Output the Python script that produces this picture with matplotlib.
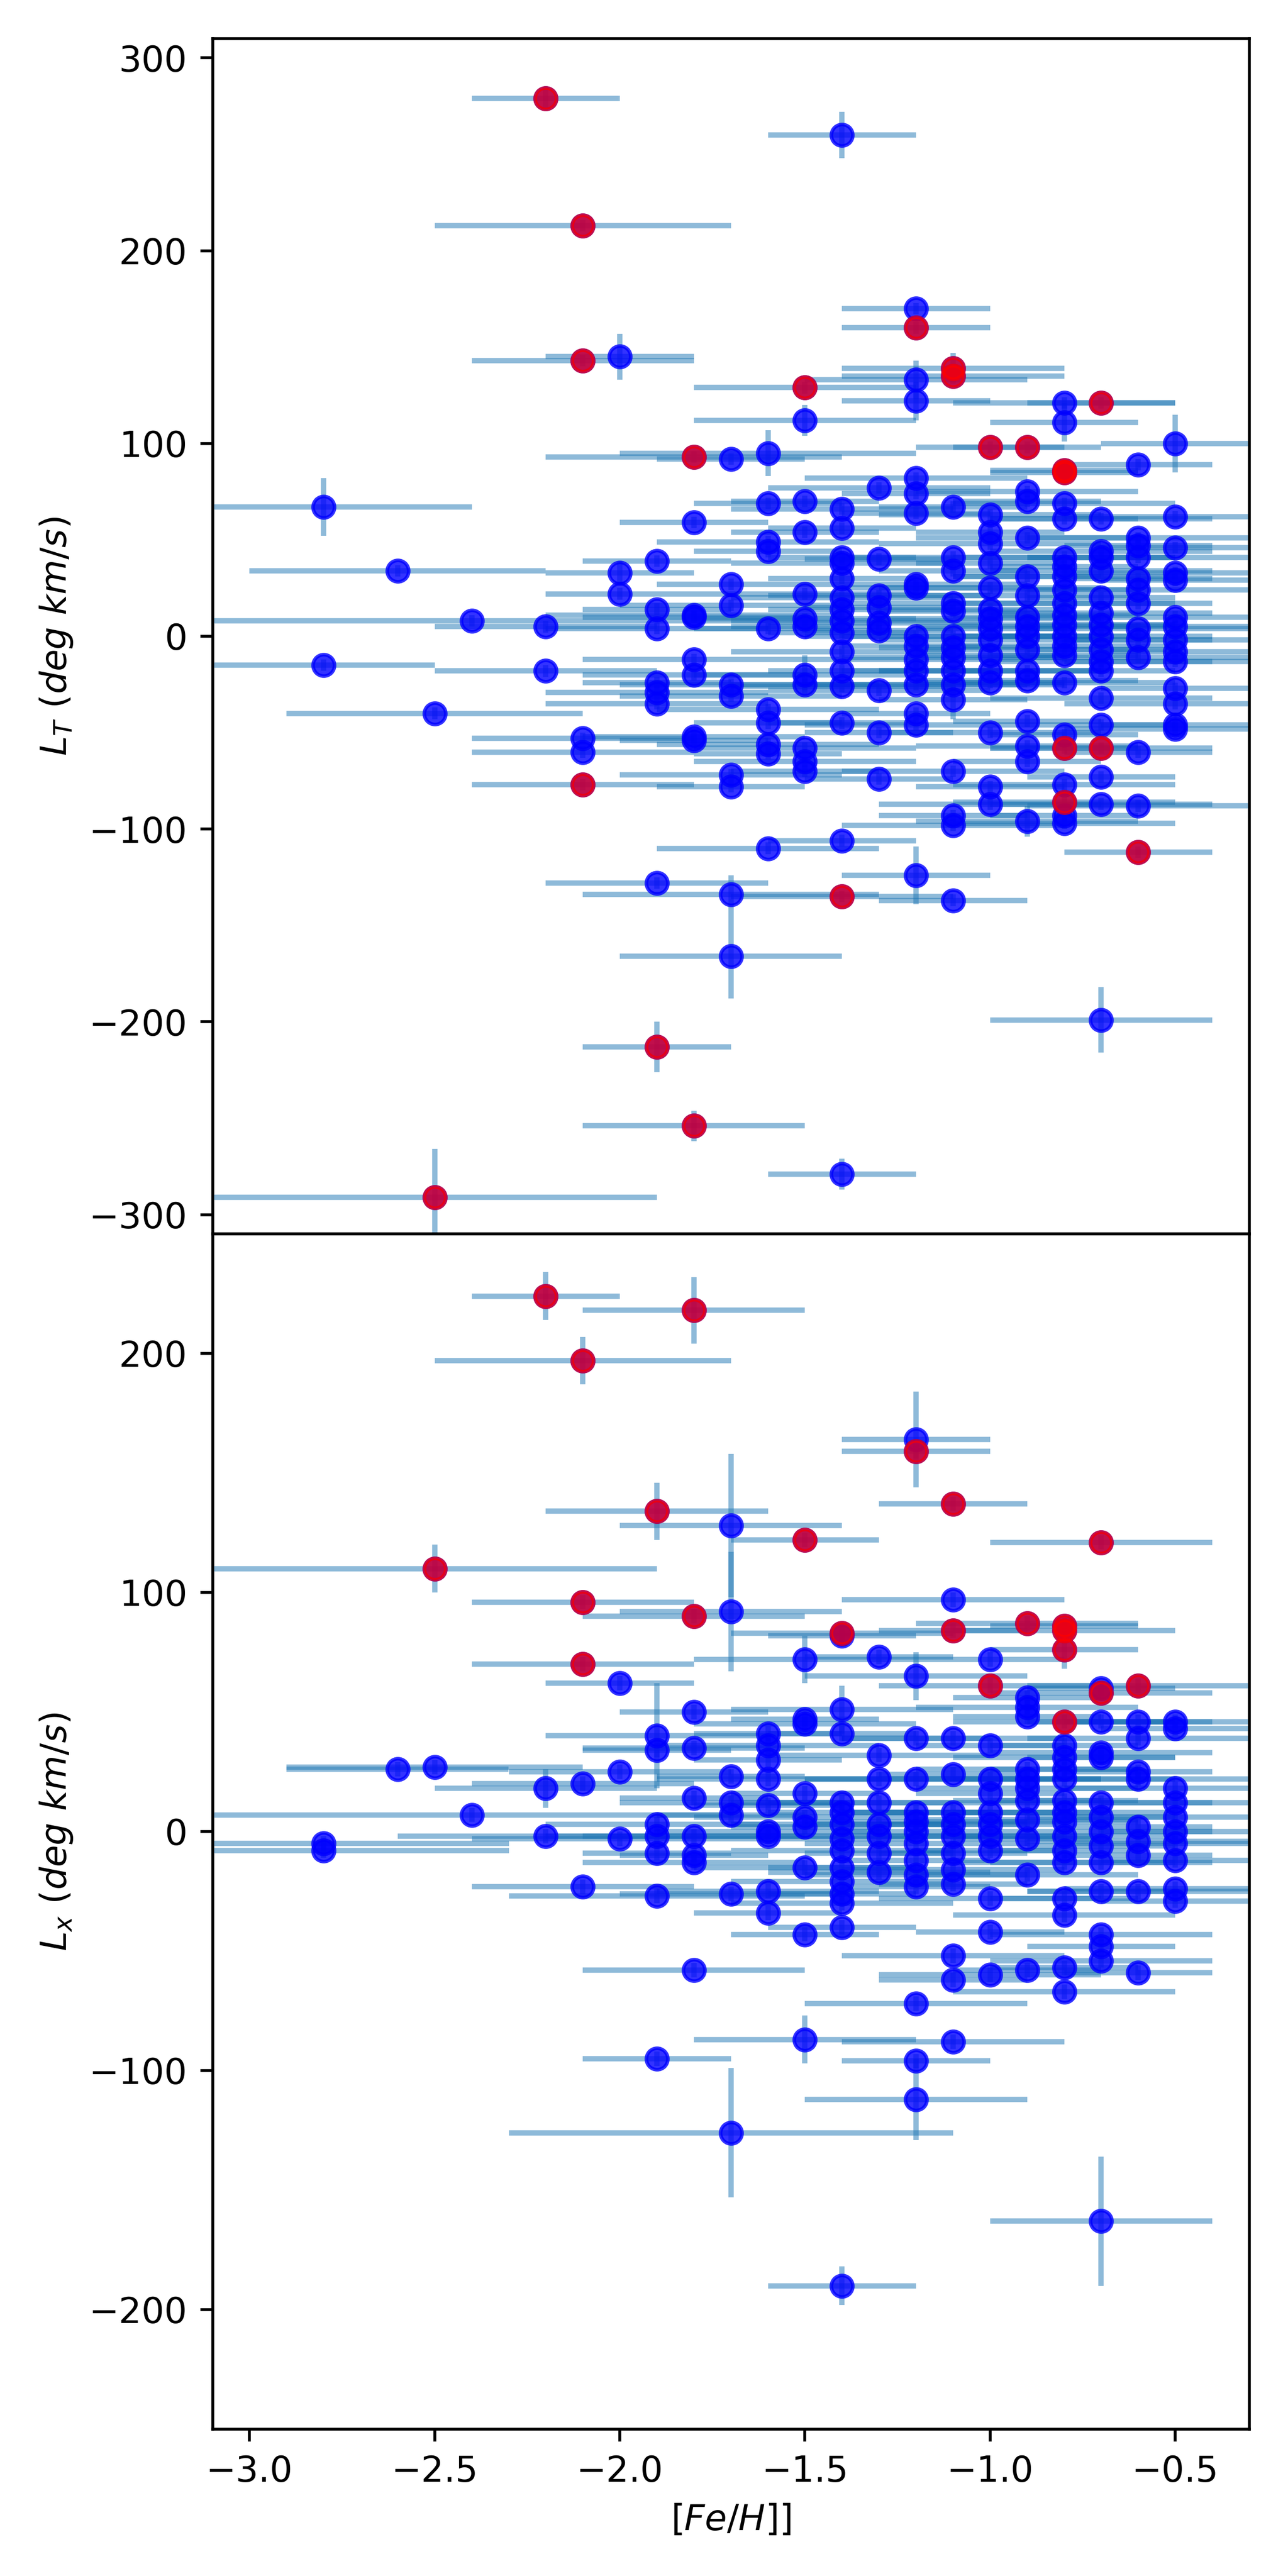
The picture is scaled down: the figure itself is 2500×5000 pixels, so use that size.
import numpy as np
import matplotlib
matplotlib.use("Agg")
import matplotlib.pyplot as plt

# ---- upper panel : L_T ----
feh_t = [
    -2.8, -2.8,
    -2.6,
    -2.5, -2.5,
    -2.4,
    -2.2, -2.2, -2.2,
    -2.1, -2.1, -2.1, -2.1, -2.1,
    -2.0, -2.0, -2.0,
    -1.9, -1.9, -1.9, -1.9, -1.9, -1.9, -1.9, -1.9,
    -1.8, -1.8, -1.8, -1.8, -1.8, -1.8, -1.8, -1.8, -1.8,
    -1.7, -1.7, -1.7, -1.7, -1.7, -1.7, -1.7, -1.7, -1.7,
    -1.6, -1.6, -1.6, -1.6, -1.6, -1.6, -1.6, -1.6, -1.6, -1.6,
    -1.5, -1.5, -1.5, -1.5, -1.5, -1.5, -1.5, -1.5, -1.5, -1.5, -1.5, -1.5,
    -1.4, -1.4, -1.4, -1.4, -1.4, -1.4, -1.4, -1.4, -1.4, -1.4, -1.4, -1.4, -1.4, -1.4, -1.4, -1.4, -1.4,
    -1.3, -1.3, -1.3, -1.3, -1.3, -1.3, -1.3, -1.3, -1.3,
    -1.2, -1.2, -1.2, -1.2, -1.2, -1.2, -1.2, -1.2, -1.2, -1.2, -1.2, -1.2, -1.2, -1.2, -1.2, -1.2, -1.2,
    -1.1, -1.1, -1.1, -1.1, -1.1, -1.1, -1.1, -1.1, -1.1, -1.1, -1.1, -1.1, -1.1, -1.1, -1.1, -1.1, -1.1,
    -1.0, -1.0, -1.0, -1.0, -1.0, -1.0, -1.0, -1.0, -1.0, -1.0, -1.0, -1.0, -1.0, -1.0, -1.0, -1.0,
    -0.9, -0.9, -0.9, -0.9, -0.9, -0.9, -0.9, -0.9, -0.9, -0.9, -0.9, -0.9, -0.9, -0.9, -0.9, -0.9,
    -0.8, -0.8, -0.8, -0.8, -0.8, -0.8, -0.8, -0.8, -0.8, -0.8, -0.8, -0.8, -0.8, -0.8, -0.8, -0.8, -0.8, -0.8, -0.8, -0.8, -0.8, -0.8, -0.8,
    -0.7, -0.7, -0.7, -0.7, -0.7, -0.7, -0.7, -0.7, -0.7, -0.7, -0.7, -0.7, -0.7, -0.7, -0.7, -0.7, -0.7, -0.7,
    -0.6, -0.6, -0.6, -0.6, -0.6, -0.6, -0.6, -0.6, -0.6, -0.6, -0.6, -0.6, -0.6,
    -0.5, -0.5, -0.5, -0.5, -0.5, -0.5, -0.5, -0.5, -0.5, -0.5, -0.5, -0.5, -0.5, -0.5,
]
lt = [
    67, -15,
    34,
    -40, -291,
    8,
    279, 5, -18,
    213, 143, -53, -60, -77,
    145, 33, 22,
    39, 14, 4, -24, -29, -35, -128, -213,
    93, 59, 11, 10, -12, -20, -52, -54, -254,
    92, 27, 16, -25, -31, -72, -78, -134, -166,
    95, 69, 49, 44, 4, -38, -45, -56, -61, -110,
    129, 112, 70, 54, 22, 9, 5, -20, -25, -58, -65, -70,
    260, 66, 56, 41, 38, 30, 20, 14, 8, 2, -8, -18, -26, -45, -106, -135, -279,
    77, 40, 21, 15, 7, 3, -28, -50, -74,
    170, 160, 133, 122, 82, 74, 64, 27, 25, 0, -5, -12, -18, -25, -40, -46, -124,
    139, 135, 67, 41, 34, 17, 13, 0, -6, -11, -18, -25, -33, -70, -93, -98, -137,
    98, 63, 54, 48, 38, 25, 14, 9, 4, -2, -10, -18, -24, -50, -78, -87,
    98, 75, 70, 51, 31, 21, 10, 5, 0, -7, -18, -23, -44, -57, -65, -96,
    121, 111, 86, 85, 69, 61, 41, 36, 31, 24, 17, 11, 6, 0, -5, -10, -24, -51, -58, -77, -86, -93, -97,
    121, 61, 44, 41, 34, 20, 12, 6, 0, -7, -13, -18, -32, -46, -58, -73, -87, -199,
    89, 51, 47, 41, 30, 24, 17, 4, -2, -11, -60, -88, -112,
    100, 62, 46, 33, 29, 10, 5, -2, -8, -13, -27, -35, -46, -48,
]
lt_xerr = [
    0.4, 0.3,
    0.4,
    0.4, 0.6,
    0.8,
    0.2, 0.3, 0.3,
    0.4, 0.3, 0.3, 0.3, 0.3,
    0.2, 0.2, 0.2,
    0.2, 0.2, 0.3, 0.2, 0.3, 0.3, 0.3, 0.2,
    0.4, 0.2, 0.4, 0.3, 0.3, 0.3, 0.3, 0.2, 0.3,
    0.2, 0.2, 0.3, 0.3, 0.3, 0.3, 0.2, 0.4, 0.3,
    0.4, 0.2, 0.3, 0.2, 0.2, 0.3, 0.2, 0.3, 0.2, 0.3,
    0.3, 0.3, 0.2, 0.2, 0.3, 0.3, 0.2, 0.3, 0.2, 0.3, 0.3, 0.2,
    0.2, 0.3, 0.2, 0.2, 0.3, 0.2, 0.3, 0.2, 0.3, 0.2, 0.3, 0.2, 0.3, 0.2, 0.2, 0.3, 0.2,
    0.3, 0.2, 0.3, 0.2, 0.3, 0.2, 0.3, 0.2, 0.2,
    0.2, 0.2, 0.3, 0.2, 0.3, 0.2, 0.2, 0.3, 0.2, 0.3, 0.2, 0.3, 0.2, 0.3, 0.2, 0.3, 0.2,
    0.3, 0.3, 0.2, 0.3, 0.2, 0.3, 0.2, 0.3, 0.2, 0.3, 0.2, 0.3, 0.2, 0.3, 0.2, 0.3, 0.2,
    0.2, 0.3, 0.2, 0.3, 0.2, 0.3, 0.2, 0.3, 0.2, 0.3, 0.2, 0.3, 0.2, 0.3, 0.2, 0.3,
    0.2, 0.3, 0.2, 0.3, 0.2, 0.3, 0.2, 0.3, 0.2, 0.3, 0.2, 0.3, 0.2, 0.3, 0.2, 0.3,
    0.3, 0.2, 0.2, 0.2, 0.3, 0.2, 0.3, 0.2, 0.3, 0.2, 0.3, 0.2, 0.3, 0.2, 0.3, 0.2, 0.3, 0.2, 0.2, 0.3, 0.3, 0.2, 0.3,
    0.2, 0.3, 0.3, 0.2, 0.3, 0.2, 0.3, 0.2, 0.3, 0.2, 0.3, 0.2, 0.3, 0.2, 0.3, 0.2, 0.3, 0.3,
    0.2, 0.3, 0.2, 0.3, 0.2, 0.3, 0.2, 0.3, 0.2, 0.3, 0.2, 0.3, 0.2,
    0.2, 0.3, 0.2, 0.3, 0.2, 0.3, 0.2, 0.3, 0.2, 0.3, 0.2, 0.3, 0.2, 0.3,
]
lt_yerr = [
    15, 3,
    3,
    3, 25,
    3,
    6, 3, 3,
    3, 3, 3, 3, 3,
    12, 6, 3,
    3, 3, 3, 3, 3, 3, 3, 13,
    3, 3, 3, 3, 3, 3, 3, 3, 8,
    3, 3, 3, 3, 3, 3, 3, 10, 22,
    12, 3, 3, 3, 3, 3, 3, 3, 3, 3,
    3, 8, 3, 3, 3, 3, 3, 10, 3, 3, 3, 3,
    12, 3, 3, 3, 3, 3, 3, 3, 3, 3, 3, 3, 3, 3, 3, 3, 8,
    3, 3, 3, 3, 3, 3, 3, 3, 3,
    3, 3, 10, 10, 3, 3, 3, 3, 3, 3, 3, 3, 3, 3, 3, 3, 15,
    8, 3, 3, 3, 3, 3, 3, 3, 3, 3, 3, 3, 10, 3, 3, 3, 3,
    3, 3, 3, 3, 3, 3, 3, 3, 3, 3, 3, 3, 3, 3, 3, 3,
    3, 3, 3, 3, 3, 3, 3, 3, 3, 3, 3, 3, 3, 3, 3, 8,
    3, 10, 3, 3, 3, 3, 3, 3, 3, 3, 3, 3, 3, 3, 3, 3, 3, 3, 3, 3, 3, 3, 3,
    3, 3, 3, 3, 3, 3, 3, 3, 3, 3, 3, 3, 3, 3, 3, 3, 3, 17,
    3, 3, 3, 3, 3, 3, 3, 3, 3, 3, 3, 3, 3,
    15, 3, 3, 3, 3, 3, 3, 3, 3, 3, 3, 3, 3, 3,
]
# highlighted stars
red_feh_t = [-2.2, -2.1, -2.1, -2.1, -2.5, -1.9, -1.8, -1.8, -1.5, -1.4, -1.2,
             -1.1, -1.1, -1.0, -0.9, -0.8, -0.8, -0.8, -0.8, -0.7, -0.7, -0.6]
red_lt = [279, 213, 143, -77, -291, -213, 93, -254, 129, -135, 160,
          139, 135, 98, 98, 86, 85, -58, -86, 121, -58, -112]

# ---- lower panel : L_x ----
feh_x = [
    -2.8, -2.8,
    -2.6,
    -2.5, -2.5,
    -2.4,
    -2.2, -2.2, -2.2,
    -2.1, -2.1, -2.1, -2.1, -2.1,
    -2.0, -2.0, -2.0,
    -1.9, -1.9, -1.9, -1.9, -1.9, -1.9, -1.9, -1.9,
    -1.8, -1.8, -1.8, -1.8, -1.8, -1.8, -1.8, -1.8, -1.8,
    -1.7, -1.7, -1.7, -1.7, -1.7, -1.7, -1.7,
    -1.6, -1.6, -1.6, -1.6, -1.6, -1.6, -1.6, -1.6, -1.6,
    -1.5, -1.5, -1.5, -1.5, -1.5, -1.5, -1.5, -1.5, -1.5, -1.5,
    -1.4, -1.4, -1.4, -1.4, -1.4, -1.4, -1.4, -1.4, -1.4, -1.4, -1.4, -1.4, -1.4, -1.4, -1.4,
    -1.3, -1.3, -1.3, -1.3, -1.3, -1.3, -1.3, -1.3,
    -1.2, -1.2, -1.2, -1.2, -1.2, -1.2, -1.2, -1.2, -1.2, -1.2, -1.2, -1.2, -1.2, -1.2, -1.2,
    -1.1, -1.1, -1.1, -1.1, -1.1, -1.1, -1.1, -1.1, -1.1, -1.1, -1.1, -1.1, -1.1, -1.1,
    -1.0, -1.0, -1.0, -1.0, -1.0, -1.0, -1.0, -1.0, -1.0, -1.0, -1.0, -1.0,
    -0.9, -0.9, -0.9, -0.9, -0.9, -0.9, -0.9, -0.9, -0.9, -0.9, -0.9, -0.9,
    -0.8, -0.8, -0.8, -0.8, -0.8, -0.8, -0.8, -0.8, -0.8, -0.8, -0.8, -0.8, -0.8, -0.8, -0.8, -0.8, -0.8, -0.8,
    -0.7, -0.7, -0.7, -0.7, -0.7, -0.7, -0.7, -0.7, -0.7, -0.7, -0.7, -0.7, -0.7, -0.7, -0.7, -0.7,
    -0.6, -0.6, -0.6, -0.6, -0.6, -0.6, -0.6, -0.6, -0.6, -0.6,
    -0.5, -0.5, -0.5, -0.5, -0.5, -0.5, -0.5, -0.5, -0.5, -0.5,
]
lx = [
    -5, -8,
    26,
    110, 27,
    7,
    224, 18, -2,
    197, 96, 70, 20, -23,
    62, 25, -3,
    134, 40, 34, 3, -2, -9, -27, -95,
    218, 90, 50, 35, 14, -2, -10, -13, -58,
    128, 92, 23, 12, 7, -26, -126,
    41, 36, 30, 22, 11, 0, -2, -25, -34,
    122, 72, 47, 45, 16, 6, 2, -15, -43, -87,
    83, 82, 51, 41, 12, 8, 3, -3, -8, -15, -21, -26, -30, -40, -190,
    73, 32, 22, 12, 3, -2, -9, -17,
    164, 159, 65, 39, 22, 8, 4, 0, -5, -12, -18, -23, -72, -96, -112,
    137, 97, 84, 39, 24, 8, 3, -2, -9, -16, -22, -52, -62, -88,
    72, 61, 36, 22, 16, 8, 3, -2, -8, -28, -42, -60,
    87, 56, 52, 48, 26, 22, 18, 13, 5, -3, -18, -58,
    86, 84, 76, 46, 36, 31, 26, 22, 13, 8, 4, -2, -8, -13, -28, -35, -57, -67,
    121, 60, 58, 46, 33, 31, 12, 6, 0, -6, -13, -25, -43, -48, -54, -163,
    61, 46, 39, 25, 22, 2, -4, -10, -25, -59,
    46, 43, 18, 12, 6, 0, -5, -12, -24, -29,
]
lx_xerr = [
    0.5, 0.5,
    0.3,
    0.6, 0.4,
    0.7,
    0.2, 0.3, 0.4,
    0.4, 0.3, 0.3, 0.3, 0.3,
    0.2, 0.3, 0.4,
    0.3, 0.3, 0.2, 0.3, 0.3, 0.2, 0.4, 0.2,
    0.3, 0.3, 0.2, 0.3, 0.2, 0.3, 0.2, 0.3, 0.3,
    0.3, 0.3, 0.2, 0.3, 0.2, 0.3, 0.6,
    0.2, 0.3, 0.2, 0.3, 0.2, 0.3, 0.2, 0.3, 0.2,
    0.2, 0.3, 0.2, 0.3, 0.2, 0.3, 0.2, 0.3, 0.2, 0.3,
    0.3, 0.2, 0.3, 0.2, 0.3, 0.2, 0.3, 0.2, 0.3, 0.2, 0.3, 0.2, 0.3, 0.2, 0.2,
    0.2, 0.3, 0.2, 0.3, 0.2, 0.3, 0.2, 0.3,
    0.2, 0.2, 0.3, 0.2, 0.3, 0.2, 0.3, 0.2, 0.3, 0.2, 0.3, 0.2, 0.3, 0.2, 0.3,
    0.2, 0.3, 0.2, 0.3, 0.2, 0.3, 0.2, 0.3, 0.2, 0.3, 0.2, 0.3, 0.2, 0.3,
    0.2, 0.3, 0.2, 0.3, 0.2, 0.3, 0.2, 0.3, 0.2, 0.3, 0.2, 0.3,
    0.3, 0.2, 0.3, 0.2, 0.3, 0.2, 0.3, 0.2, 0.3, 0.2, 0.3, 0.2,
    0.2, 0.3, 0.2, 0.3, 0.2, 0.3, 0.2, 0.3, 0.2, 0.3, 0.2, 0.3, 0.2, 0.3, 0.2, 0.3, 0.2, 0.3,
    0.3, 0.2, 0.3, 0.2, 0.3, 0.2, 0.3, 0.2, 0.3, 0.2, 0.3, 0.2, 0.3, 0.2, 0.3, 0.3,
    0.3, 0.2, 0.3, 0.2, 0.3, 0.2, 0.3, 0.2, 0.3, 0.2,
    0.3, 0.2, 0.3, 0.2, 0.3, 0.2, 0.3, 0.2, 0.3, 0.2,
]
lx_yerr = [
    3, 3,
    3,
    10, 3,
    3,
    10, 8, 3,
    10, 3, 3, 3, 3,
    3, 3, 3,
    12, 22, 3, 3, 3, 3, 3, 3,
    14, 3, 3, 3, 3, 3, 3, 3, 3,
    30, 25, 3, 3, 3, 3, 27,
    3, 3, 3, 3, 3, 3, 3, 3, 3,
    3, 10, 3, 3, 3, 3, 3, 3, 3, 10,
    3, 3, 10, 3, 3, 3, 3, 3, 3, 3, 3, 3, 3, 3, 8,
    3, 3, 3, 3, 3, 3, 3, 3,
    20, 3, 10, 3, 3, 3, 3, 3, 3, 3, 3, 3, 3, 3, 17,
    3, 3, 3, 3, 3, 3, 3, 3, 3, 3, 3, 3, 3, 3,
    3, 3, 3, 3, 3, 3, 3, 3, 3, 3, 3, 3,
    3, 3, 3, 3, 3, 3, 3, 3, 3, 3, 3, 3,
    3, 3, 8, 3, 3, 3, 3, 3, 3, 3, 3, 3, 3, 3, 3, 3, 3, 3,
    3, 3, 3, 3, 3, 3, 3, 3, 3, 3, 3, 3, 3, 3, 3, 27,
    3, 3, 3, 3, 3, 3, 3, 3, 3, 3,
    3, 3, 3, 3, 3, 3, 3, 3, 3, 3,
]
red_feh_x = [-2.2, -1.8, -2.1, -1.2, -1.1, -1.9, -1.5, -0.7, -2.5, -2.1, -1.8,
             -0.9, -0.8, -0.8, -1.4, -1.1, -0.8, -2.1, -1.0, -0.6, -0.7, -0.8]
red_lx = [224, 218, 197, 159, 137, 134, 122, 121, 110, 96, 90,
          87, 86, 84, 83, 84, 76, 70, 61, 61, 58, 46]

fig, (ax1, ax2) = plt.subplots(2, 1, figsize=(5, 10), sharex=True)
fig.subplots_adjust(left=0.165, right=0.970, top=0.985, bottom=0.057, hspace=0)

ax1.errorbar(feh_t, lt, xerr=lt_xerr, yerr=lt_yerr, fmt='none', ecolor='C0', alpha=0.5)
ax1.scatter(feh_t, lt, c='b', alpha=0.8, zorder=3)
ax1.scatter(red_feh_t, red_lt, c='r', alpha=0.7, zorder=4)
ax1.set_ylim(-310, 310)
ax1.set_ylabel(r'$L_T\ (deg\ km/s)$')

ax2.errorbar(feh_x, lx, xerr=lx_xerr, yerr=lx_yerr, fmt='none', ecolor='C0', alpha=0.5)
ax2.scatter(feh_x, lx, c='b', alpha=0.8, zorder=3)
ax2.scatter(red_feh_x, red_lx, c='r', alpha=0.7, zorder=4)
ax2.set_ylim(-250, 250)
ax2.set_ylabel(r'$L_x\ (deg\ km/s)$')
ax2.set_xlim(-3.1, -0.3)
ax2.set_xlabel(r'$[Fe/H]$]')

fig.savefig('out.png', dpi=500)
